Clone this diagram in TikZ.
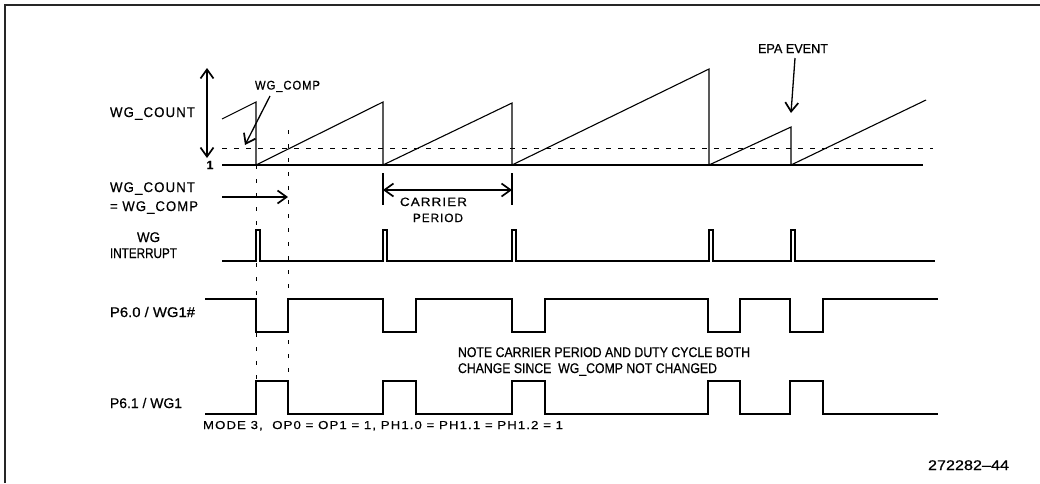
\documentclass[tikz,border=0pt]{standalone}
\usepackage{graphicx}
\usepackage{fontspec}
\setmainfont[FakeBold=0.6]{Liberation Sans}
\newfontfamily\lsfont[LetterSpace=8,FakeBold=0.6]{Liberation Sans}
\usetikzlibrary{arrows.meta}
\newcommand\fsz[1]{\fontsize{#1}{#1}\selectfont}
\newcommand\tw[2]{\resizebox{#1pt}{\height}{#2}}
\begin{document}
\begin{tikzpicture}[x=1pt,y=-1pt,
  lbl/.style={inner sep=0pt, outer sep=0pt, anchor=base west},
  wave/.style={line width=1.1pt, line join=miter},
  ddash/.style={line width=1pt, dash pattern=on 5pt off 7pt},
  vdash/.style={line width=1pt, dash pattern=on 4pt off 10pt},
  arr/.style={line width=1.3pt, -{Straight Barb[length=9pt,width=13pt,line width=1.7pt]}},
  darr/.style={line width=1.3pt, {Straight Barb[length=9pt,width=13pt,line width=1.7pt]}-{Straight Barb[length=9pt,width=13pt,line width=1.7pt]}},
  frame/.style={line width=1.6pt, black!85}]
\useasboundingbox (0,0) rectangle (1040,483);
% frame
\draw[frame] (5,483) -- (5,5) -- (1040,5);

% ---------- WG_COUNT ----------
\node[lbl] (wgcount) at (110,117) {\fsz{14}\lsfont\tw{85}{WG\_COUNT}};
\coordinate (vt) at (207,68);
\coordinate (vb) at (207,158);
\draw[darr] (vt) -- (vb);
\node[inner sep=0pt] (one) at (210,165) {\fsz{12}\bfseries 1};
\coordinate (b0) at (222,165);
\coordinate (b1) at (923,165);
\draw[wave] (b0) -- (b1);
\coordinate (d0) at (222,148);
\coordinate (d1) at (933,148);
\draw[ddash] (d0) -- (d1);
\draw[wave] (222,119) -- (256,102) -- (256,165) -- (383,102) -- (383,165)
  -- (512,103) -- (512,165) -- (709,69) -- (709,165) -- (791,127) -- (791,165) -- (926,100);

\node[lbl] (wgcomp) at (255,89.5) {\fsz{12.5}\lsfont\tw{65}{WG\_COMP}};
\coordinate (wgcompTip) at (245,145);
\draw[arr] (270,96) -- (wgcompTip);

\node[lbl] (epa) at (758,53) {\fsz{13}\tw{70}{EPA EVENT}};
\coordinate (epaTip) at (791,113);
\draw[arr] (795,58) -- (epaTip);

% ---------- WG_COUNT = WG_COMP ----------
\node[lbl] (eq1) at (110,192) {\fsz{14}\lsfont\tw{85}{WG\_COUNT}};
\node[lbl] (eq2) at (110,211) {\fsz{14}\lsfont\tw{88}{= WG\_COMP}};
\coordinate (eqs) at (222,197);
\coordinate (eqe) at (288,197);
\draw[arr] (eqs) -- (eqe);

% carrier period
\coordinate (cpA) at (383,190);
\coordinate (cpB) at (512,190);
\draw[wave] (383,173) -- (383,205);
\draw[wave] (512,173) -- (512,205);
\draw[darr] (cpA) -- (cpB);
\node[lbl] (carrier) at (400,206) {\fsz{12}\lsfont\tw{67}{CARRIER}};
\node[lbl] (period) at (413,222) {\fsz{12}\lsfont\tw{50}{PERIOD}};

% ---------- WG INTERRUPT ----------
\node[inner sep=0pt, anchor=base] (wg) at (148.5,242) {\fsz{14}\tw{23}{WG}};
\node[lbl] (intr) at (110,258) {\fsz{14}\tw{67}{INTERRUPT}};
\draw[wave] (222,261) -- (256,261) -- (256,230) -- (260,230) -- (260,261)
  -- (383,261) -- (383,230) -- (387,230) -- (387,261)
  -- (512,261) -- (512,230) -- (516,230) -- (516,261)
  -- (709,261) -- (709,230) -- (713,230) -- (713,261)
  -- (791,261) -- (791,230) -- (795,230) -- (795,261) -- (935,261);

% ---------- P6.0 / WG1# ----------
\node[lbl] (p60) at (110,317) {\fsz{14}\tw{85}{P6.0 / WG1\#}};
\draw[wave] (205,299) -- (256,299) -- (256,332) -- (288,332) -- (288,299)
  -- (383,299) -- (383,332) -- (416,332) -- (416,299)
  -- (512,299) -- (512,332) -- (545,332) -- (545,299)
  -- (708,299) -- (708,332) -- (740,332) -- (740,299)
  -- (790,299) -- (790,332) -- (823,332) -- (823,299) -- (938,299);

% note
\node[lbl] (note1) at (458,357) {\fsz{14}\tw{292}{NOTE CARRIER PERIOD AND DUTY CYCLE BOTH}};
\node[lbl] (note2) at (458,373) {\fsz{14}\tw{259}{CHANGE SINCE~ WG\_COMP NOT CHANGED}};

% ---------- P6.1 / WG1 ----------
\node[lbl] (p61) at (110,408) {\fsz{14}\tw{72}{P6.1 / WG1}};
\draw[wave] (205,414) -- (256,414) -- (256,381) -- (288,381) -- (288,414)
  -- (383,414) -- (383,381) -- (416,381) -- (416,414)
  -- (512,414) -- (512,381) -- (545,381) -- (545,414)
  -- (708,414) -- (708,381) -- (740,381) -- (740,414)
  -- (790,414) -- (790,381) -- (823,381) -- (823,414) -- (938,414);

% dashed verticals
\draw[vdash] (256,165) -- (256,381);
\draw[vdash] (288,130) -- (288,381);

% bottom texts
\node[lbl] (mode) at (203,429) {\fsz{11.5}\lsfont\tw{360}{MODE 3,~ OP0 = OP1 = 1, PH1.0 = PH1.1 = PH1.2 = 1}};
\node[lbl] (fig) at (928,470) {\fsz{14}\tw{81}{272282--44}};
\end{tikzpicture}
\end{document}
